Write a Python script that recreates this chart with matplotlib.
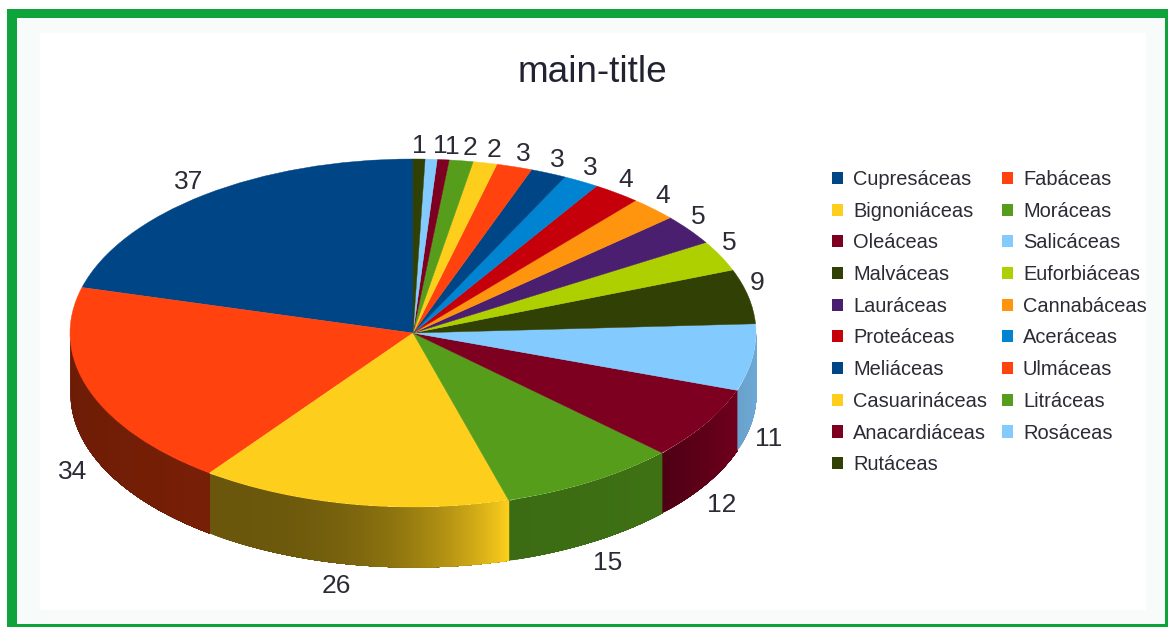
import numpy as np
import matplotlib
matplotlib.use("Agg")
import matplotlib.pyplot as plt
from matplotlib.colors import to_rgb
from matplotlib.patches import Patch, Rectangle

# ---------------------------
# Data
# ---------------------------
families = ["Cupresáceas", "Fabáceas", "Bignoniáceas", "Moráceas", "Oleáceas",
            "Salicáceas", "Malváceas", "Euforbiáceas", "Lauráceas", "Cannabáceas",
            "Proteáceas", "Aceráceas", "Meliáceas", "Ulmáceas", "Casuarináceas",
            "Litráceas", "Anacardiáceas", "Rosáceas", "Rutáceas"]
counts = [37, 34, 26, 15, 12, 11, 9, 5, 5, 4, 4, 3, 3, 3, 2, 2, 1, 1, 1]
palette = ["#004586", "#ff420e", "#fdcf1c", "#579d1c", "#7e0021", "#83caff",
           "#314004", "#aecf00", "#4b1f6f", "#ff950e", "#c5000b", "#0084d1"]

# wall brightness per slice: left end, right end, curve power
wall_shades = {1: (0.42, 0.47, 1), 2: (0.42, 1.0, 3), 3: (0.68, 0.72, 1),
               4: (0.62, 0.90, 1), 5: (0.80, 0.85, 1)}

# ---------------------------
# Layout (pixels)
# ---------------------------
W, H = 1168, 627
cx, cy = 413, 333
rx, ry = 343, 174
depth = 60 / ry
text_color = "#2b2b36"

plt.rcParams["font.family"] = ["Liberation Sans", "DejaVu Sans"]
fig = plt.figure(figsize=(W / 100, H / 100), dpi=100, facecolor="white")


def add_box(x0, y0, x1, y1, color):
    fig.add_artist(Rectangle((x0 / W, 1 - y1 / H), (x1 - x0) / W, (y1 - y0) / H,
                             transform=fig.transFigure, facecolor=color,
                             edgecolor="none", zorder=-3))


# green frame with a faint inner band
add_box(7, 9, 1168, 627, "#0fa33c")
add_box(17, 18, 1165, 624, "#f7fbfa")
add_box(40, 33, 1146, 610, "white")

ax = fig.add_axes([0, 0, 1, 1])
ax.patch.set_visible(False)

# ---------------------------
# Top face
# ---------------------------
colors = [palette[i % len(palette)] for i in range(len(counts))]
wedges, _ = ax.pie(counts, colors=colors, startangle=90, counterclock=True,
                   wedgeprops={"linewidth": 0.3, "zorder": 3})
for w, c in zip(wedges, colors):
    w.set_edgecolor(c)
ax.set_aspect("auto")
ax.set_xlim((0 - cx) / rx, (W - cx) / rx)
ax.set_ylim((cy - H) / ry, cy / ry)

# ---------------------------
# Side wall, front half only
# ---------------------------
for i, w in enumerate(wedges):
    a0, a1 = max(w.theta1, 180), min(w.theta2, 360)
    if a1 <= a0:
        continue
    s0, s1, power = wall_shades.get(i, (0.7, 0.7, 1))
    base = np.array(to_rgb(colors[i]))
    steps = max(int(a1 - a0) * 2, 2)
    edges = np.linspace(a0, a1, steps + 1)
    # each strip runs to the end of its slice, later strips paint over it
    for k in range(steps):
        t = (k + 0.5) / steps
        shade = s0 + (s1 - s0) * t ** power
        th = np.radians(np.linspace(edges[k], a1, 80))
        xs = np.cos(th)
        ys = np.sin(th)
        ax.fill_between(xs, ys, ys - depth, color=base * shade, linewidth=0,
                        zorder=1 + i * 0.01 + k * 1e-4)

# ---------------------------
# Value labels
# ---------------------------
for i, (w, n) in enumerate(zip(wedges, counts)):
    mid = np.radians((w.theta1 + w.theta2) / 2)
    x, y = np.cos(mid), np.sin(mid)
    if y < 0:
        dx, dy = np.sign(x) * 16, -81.5
    elif x < 0:
        dx, dy = -16, 13
    elif i == len(counts) - 1:
        dx, dy = 0, 13
    else:
        dx, dy = 9, 13
    ax.annotate(str(n), (x, y), xytext=(dx * 0.72, dy * 0.72),
                textcoords="offset points", ha="center", va="center",
                fontsize=19, color=text_color, zorder=5)

# ---------------------------
# Title and legend
# ---------------------------
fig.text(592 / W, 1 - 73 / H, "main-title", ha="center", va="center",
         fontsize=26.6, color="#222230")

# legend is filled column by column, so take every other family for each column
order = list(range(0, len(counts), 2)) + list(range(1, len(counts), 2))
handles = [Patch(facecolor=colors[i], edgecolor="none") for i in order]
labels = [families[i] for i in order]
fig.legend(handles, labels, ncols=2, frameon=False, loc="upper left",
           bbox_to_anchor=(832 / W, 1 - 170 / H), borderpad=0, borderaxespad=0,
           fontsize=14.4, labelcolor=text_color, handlelength=0.55, handleheight=0.55,
           handletextpad=0.5, labelspacing=0.635, columnspacing=0.75)

fig.savefig("out.png", dpi=100)
